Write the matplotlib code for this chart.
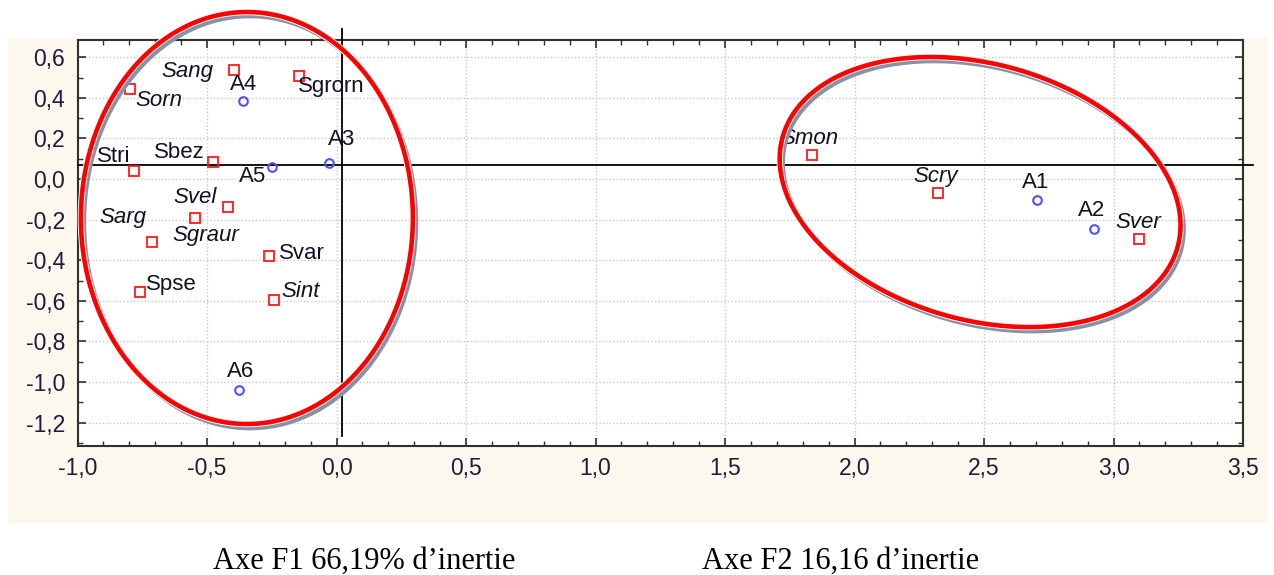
import numpy as np
import matplotlib.pyplot as plt
from matplotlib.patches import Rectangle, Polygon
from matplotlib.ticker import MultipleLocator, FuncFormatter

# ── données : coordonnées des espèces (S...) et des stations (A...) ──
esp_noms = ['Sang', 'Sgrorn', 'Sorn', 'Stri', 'Sbez', 'Svel', 'Sgraur', 'Sarg',
            'Svar', 'Spse', 'Sint', 'Smon', 'Scry', 'Sver']
esp_f1 = [-0.396, -0.145, -0.796, -0.781, -0.476, -0.418, -0.545, -0.714,
          -0.262, -0.759, -0.241, 1.835, 2.322, 3.100]
esp_f2 = [0.537, 0.507, 0.443, 0.041, 0.083, -0.137, -0.190, -0.312,
          -0.378, -0.557, -0.596, 0.118, -0.069, -0.296]
esp_ital = [True, False, True, False, False, True, True, True,
            False, False, True, True, True, True]

sta_noms = ['A1', 'A2', 'A3', 'A4', 'A5', 'A6']
sta_f1 = [2.703, 2.925, -0.028, -0.361, -0.248, -0.376]
sta_f2 = [-0.103, -0.246, 0.079, 0.386, 0.057, -1.039]

# position des étiquettes (décalage en pixels, alignement)
esp_off = {'Sang': (-21, -7, 'right'), 'Sgrorn': (-1, -16, 'left'),
           'Sorn': (5, -17, 'left'), 'Stri': (-4, 9, 'right'),
           'Sbez': (-8, 4, 'right'), 'Svel': (-11, 4, 'right'),
           'Sgraur': (-23, -23, 'left'), 'Sarg': (-5, 19, 'right'),
           'Svar': (10, -3, 'left'), 'Spse': (6, 2, 'left'),
           'Sint': (7, 3, 'left'), 'Smon': (-2, 11, 'center'),
           'Scry': (-2, 11, 'center'), 'Sver': (-1, 11, 'center')}
sta_off = {'A1': (-1, 12, 'center'), 'A2': (-2, 13, 'center'),
           'A3': (-1, 18, 'left'), 'A4': (1, 11, 'center'),
           'A5': (-6, -15, 'right'), 'A6': (1, 13, 'center')}

# axes de référence et groupes entourés
x_ref, y_ref = 0.021, 0.069
groupes = [  # centre (F1, F2), demi-axes en pixels, inclinaison en degrés
    dict(c=(-0.346, -0.192), a=166, b=206, ang=0.0),
    dict(c=(2.485, -0.064), a=205, b=128, ang=-15.6),
]

W, H, DPI = 12.74, 5.75, 100
xlim, ylim = (-1.0, 3.5), (-1.315, 0.685)
ax_pos = [77.5/1274, 1 - 446/575, (1243 - 77.5)/1274, 406/575]
police = ['Liberation Sans', 'DejaVu Sans']

fig = plt.figure(figsize=(W, H), dpi=DPI)
fig.patch.set_facecolor('white')
fond = Rectangle((8/1274, 1 - 523/575), 1260/1274, 485/575,
                 transform=fig.transFigure, facecolor='#fdf8ed',
                 edgecolor='none', zorder=-10)
fig.add_artist(fond)

ax = fig.add_axes(ax_pos)
ax.set_facecolor('white')
ax.set_xlim(*xlim); ax.set_ylim(*ylim)

ax.xaxis.set_major_locator(MultipleLocator(0.5))
ax.xaxis.set_minor_locator(MultipleLocator(0.1))
ax.yaxis.set_major_locator(MultipleLocator(0.2))
ax.yaxis.set_minor_locator(MultipleLocator(0.1))
virg = FuncFormatter(lambda v, p: f'{v:.1f}'.replace('.', ',').replace('-0,0', '0,0'))
ax.xaxis.set_major_formatter(virg); ax.yaxis.set_major_formatter(virg)
ax.tick_params(which='both', direction='in', top=True, right=True,
               color='#303030', labelcolor='#1c1c3c', labelsize=16.5)
ax.tick_params(which='major', length=6, width=1.2)
ax.tick_params(which='minor', length=3.5, width=1.0)
ax.tick_params(axis='x', pad=8)
ax.tick_params(axis='y', pad=9)
for lab in ax.get_xticklabels() + ax.get_yticklabels():
    lab.set_family(police)
for s in ax.spines.values():
    s.set_color('#303030'); s.set_linewidth(1.5)
ax.grid(True, which='major', color='#c8c8c8', linestyle=(0, (1, 1.5)), lw=1.0)
ax.set_axisbelow(True)

# axes factoriels
ax.plot([x_ref, x_ref], [0.739, -1.266], color='black', lw=1.3, clip_on=False, zorder=3)
ax.plot([xlim[0], 3.54], [y_ref, y_ref], color='black', lw=1.3, clip_on=False, zorder=3)

# points
ax.plot(esp_f1, esp_f2, 's', ms=6.5, mfc='none', mec='#ff1a1a', mew=1.3, zorder=4)
ax.plot(sta_f1, sta_f2, 'o', ms=6.2, mfc='none', mec='#5050ff', mew=1.5, zorder=4)

for n, x, y, it in zip(esp_noms, esp_f1, esp_f2, esp_ital):
    dx, dy, ha = esp_off[n]
    ax.annotate(n, (x, y), xytext=(dx, dy), textcoords='offset pixels',
                ha=ha, va='baseline', fontsize=16, family=police,
                style='italic' if it else 'normal', color='#111122', zorder=5)
for n, x, y in zip(sta_noms, sta_f1, sta_f2):
    dx, dy, ha = sta_off[n]
    ax.annotate(n, (x, y), xytext=(dx, dy), textcoords='offset pixels',
                ha=ha, va='baseline', fontsize=16, family=police,
                color='#111122', zorder=5)

# ellipses des groupes (tracées en pixels puis ramenées aux unités des axes)
px_x = (xlim[1] - xlim[0]) / (ax_pos[2] * W * DPI)
px_y = (ylim[1] - ylim[0]) / (ax_pos[3] * H * DPI)
t = np.linspace(0, 2*np.pi, 400, endpoint=False)
for g in groupes:
    th = np.deg2rad(g['ang'])
    u = g['a']*np.cos(t); v = g['b']*np.sin(t)
    ex = u*np.cos(th) - v*np.sin(th)
    ey = u*np.sin(th) + v*np.cos(th)
    pts = np.column_stack([g['c'][0] + ex*px_x, g['c'][1] + ey*px_y])
    ombre = pts + [3*px_x, -4*px_y]
    for xy, col, lw, z in [(ombre, '#8792a4', 3.3, 6), (pts, 'white', 4.6, 7),
                           (pts, '#ff0000', 3.3, 8)]:
        ax.add_patch(Polygon(xy, closed=True, fill=False, edgecolor=col,
                             lw=lw, clip_on=False, zorder=z))

fig.text(364/1274, 1 - 569/575, 'Axe F1 66,19% d’inertie', ha='center', va='baseline',
         fontsize=22, family=['Liberation Serif', 'DejaVu Serif'])
fig.text(841/1274, 1 - 569/575, 'Axe F2 16,16 d’inertie', ha='center', va='baseline',
         fontsize=22, family=['Liberation Serif', 'DejaVu Serif'])

fig.savefig('out.png', dpi=DPI)
